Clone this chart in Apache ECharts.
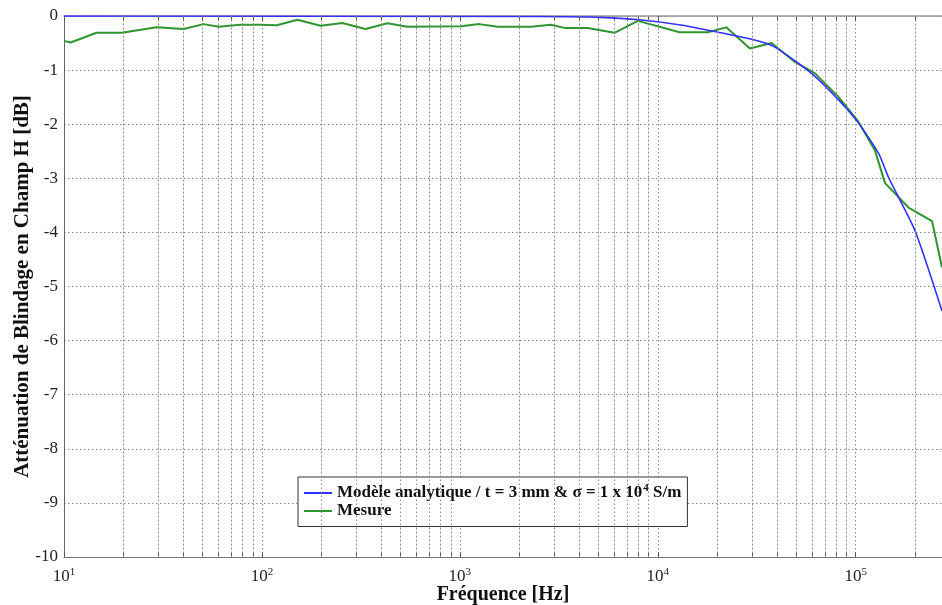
<!DOCTYPE html>
<html>
<head>
<meta charset="utf-8">
<script src="https://cdn.jsdelivr.net/npm/echarts@6/dist/echarts.min.js"></script>
<style>html,body{margin:0;padding:0;background:#fff}#c{width:942px;height:605px}</style>
</head>
<body>
<div id="c"></div>
<script>
// ---- data ----
const freqModel = [10, 2500, 5180, 8050, 13300, 20200, 30500, 38900, 59800, 82000, 103500, 130600, 146800, 199000, 273000];
const attModel  = [0, -0.01, -0.025, -0.07, -0.17, -0.3, -0.44, -0.57, -1.06, -1.55, -1.98, -2.54, -2.99, -3.96, -5.45];

const freqMeas = [10, 10.8, 14.6, 19.6, 29.4, 40.2, 50.7, 60.4, 77.8, 98, 119, 151, 198, 255, 334, 430, 543, 1011, 1253, 1553, 2286, 2884, 3372, 4426, 6040, 7940, 12900, 17900, 22200, 29200, 37600, 49300, 62300, 81700, 103000, 125000, 140700, 185000, 243000, 273000];
const attMeas  = [-0.46, -0.49, -0.31, -0.31, -0.21, -0.24, -0.15, -0.2, -0.16, -0.16, -0.17, -0.07, -0.18, -0.13, -0.24, -0.135, -0.2, -0.19, -0.15, -0.2, -0.2, -0.16, -0.22, -0.22, -0.31, -0.09, -0.3, -0.3, -0.21, -0.6, -0.5, -0.85, -1.06, -1.49, -1.95, -2.48, -3.09, -3.54, -3.79, -4.65];

const xMin = 10, xMax = 273000;
const yMin = -10, yMax = 0, yStep = 1;
const minorFreqs = [];
[10, 100, 1000, 10000, 100000].forEach(d => { for (let k = 2; k <= 9; k++) { if (k * d < xMax) minorFreqs.push(k * d); } });
const allTickFreqs = [10, 100, 1000, 10000, 100000].concat(minorFreqs);

const seriesNames = ['Modèle analytique / t = 3 mm & σ = 1 x 10⁴ S/m', 'Mesure'];
const xTitle = 'Fréquence [Hz]';
const yTitle = 'Atténuation de Blindage en Champ H [dB]';

const serif = '"Liberation Serif", "DejaVu Serif", serif';
const gridColor = '#8a8a8a';

const chart = echarts.init(document.getElementById('c'));
chart.setOption({
  animation: false,
  backgroundColor: '#fff',
  grid: { left: 64, right: 0, top: 16, bottom: 48, containLabel: false, outerBoundsMode: 'none' },
  legend: {
    left: 298, top: 477, orient: 'vertical',
    backgroundColor: '#fff', borderColor: '#333', borderWidth: 1,
    padding: [6, 6, 7, 6], itemGap: 1, itemWidth: 28, itemHeight: 2,
    icon: 'rect',
    data: seriesNames,
    formatter: function (n) {
      if (n === seriesNames[0]) return '{t|Modèle analytique / t = 3 mm & σ = 1 x 10}{s|4}{t| S/m}';
      return '{t|' + n + '}';
    },
    textStyle: {
      rich: {
        t: { fontFamily: serif, fontWeight: 'bold', fontSize: 17, lineHeight: 18, color: '#111' },
        s: { fontFamily: serif, fontWeight: 'bold', fontSize: 11, color: '#111', padding: [0, 0, 9, 1] }
      }
    }
  },
  xAxis: [{
    type: 'log', logBase: 10, min: xMin, max: xMax,
    name: xTitle, nameLocation: 'middle', nameGap: 28, nameMoveOverlap: false,
    nameTextStyle: { fontFamily: serif, fontWeight: 'bold', fontSize: 20, color: '#111' },
    axisLine: { show: true, onZero: false, lineStyle: { color: '#777', width: 1 } },
    axisTick: { show: true, inside: true, length: 5, customValues: allTickFreqs, lineStyle: { color: '#555' } },
    axisLabel: {
      margin: 10, showMaxLabel: false,
      formatter: function (v) {
        const e = Math.log10(v);
        if (Math.abs(e - Math.round(e)) > 1e-6) return '';
        return '{b|10}{s|' + Math.round(e) + '}';
      },
      rich: {
        b: { fontFamily: serif, fontSize: 17, color: '#222' },
        s: { fontFamily: serif, fontSize: 11, color: '#222', padding: [0, 0, 9, 0] }
      }
    },
    splitLine: { show: true, lineStyle: { color: gridColor, type: [1.5, 2.5], width: 1 } }
  }, {
    type: 'log', logBase: 10, min: xMin, max: xMax, position: 'top',
    axisLine: { show: true, onZero: false, lineStyle: { color: '#999', width: 1.5 } },
    axisTick: { show: true, inside: true, length: 5, customValues: allTickFreqs, lineStyle: { color: '#555' } },
    axisLabel: { show: false }, splitLine: { show: false }
  }],
  yAxis: {
    type: 'value', min: yMin, max: yMax, interval: yStep,
    name: yTitle, nameLocation: 'middle', nameGap: 31, nameRotate: 90, nameMoveOverlap: false,
    nameTextStyle: { fontFamily: serif, fontWeight: 'bold', fontSize: 21, color: '#111' },
    axisLine: { show: true, onZero: false, lineStyle: { color: '#666', width: 1 } },
    axisTick: { show: false },
    axisLabel: { fontFamily: serif, fontSize: 17, color: '#222', margin: 6 },
    splitLine: { show: true, lineStyle: { color: gridColor, type: [1.5, 2.5], width: 1 } }
  },
  series: [{
    name: seriesNames[0], type: 'line', symbol: 'none', showSymbol: false, z: 4,
    data: freqModel.map((f, i) => [f, attModel[i]]),
    smooth: 0.2,
    lineStyle: { color: '#3030ff', width: 1.6 }, itemStyle: { color: '#3030ff' }
  }, {
    name: seriesNames[1], type: 'line', symbol: 'none', showSymbol: false, z: 3,
    data: freqMeas.map((f, i) => [f, attMeas[i]]),
    lineStyle: { color: '#2f962f', width: 2 }, itemStyle: { color: '#2f962f' }
  }, {
    name: 'grid-minor', type: 'line', data: [], silent: true, z: 1,
    markLine: {
      silent: true, symbol: 'none', label: { show: false }, animation: false,
      lineStyle: { color: gridColor, type: [1.5, 2.5], width: 1 },
      data: minorFreqs.map(v => ({ xAxis: v }))
    }
  }]
});
</script>
</body>
</html>
